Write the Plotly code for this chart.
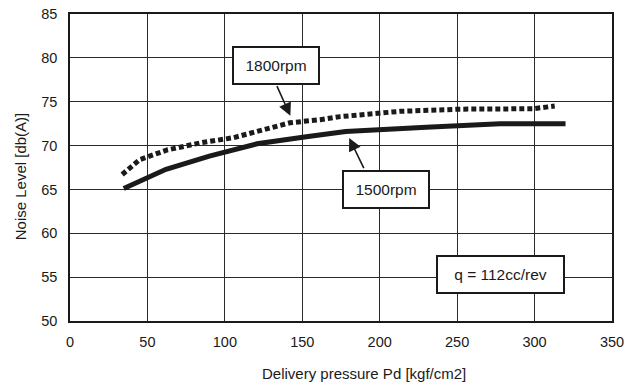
import plotly.graph_objects as go

# Data
p_1500 = [34.7, 62, 90, 120.8, 152.6, 178, 230, 277.7, 320]
n_1500 = [65.1, 67.3, 68.8, 70.2, 71.0, 71.6, 72.1, 72.5, 72.5]

p_1800 = [33.7, 45, 62.7, 84, 105.5, 142, 161.6, 174.5, 213, 251.9, 299, 313]
n_1800 = [66.7, 68.4, 69.5, 70.3, 70.9, 72.6, 72.95, 73.3, 73.9, 74.15, 74.2, 74.5]

x_ticks = [0, 50, 100, 150, 200, 250, 300, 350]
y_ticks = [50, 55, 60, 65, 70, 75, 80, 85]

FONT = "Liberation Sans, Arial, sans-serif"
INK = "#1a1a1a"

W, H = 625, 387
L, T, R, B = 69.5, 14, 625 - 612.5, 387 - 321
PW, PH = W - L - R, H - T - B

fig = go.Figure()
fig.add_trace(go.Scatter(x=p_1500, y=n_1500, mode="lines",
                         line=dict(color=INK, width=5), name="1500rpm"))
fig.add_trace(go.Scatter(x=p_1800, y=n_1800, mode="lines",
                         line=dict(color=INK, width=5, dash="5px,3px"), name="1800rpm"))

box = dict(font=dict(family=FONT, size=15.5, color=INK), bgcolor="white",
           bordercolor=INK, borderwidth=2, borderpad=0, showarrow=False,
           xref="x", yref="y", height=35, align="center", valign="middle")

fig.add_annotation(text="1800rpm", x=132.9, y=79.16, width=84, **box)
fig.add_annotation(text="1500rpm", x=203.9, y=64.97, width=84, **box)
fig.add_annotation(text="q = 112cc/rev", x=277.7, y=55.33, width=125, **box)

arrow = dict(text="", showarrow=True, arrowhead=2, arrowsize=1.6, arrowwidth=1.6,
             arrowcolor=INK, xref="x", yref="y", axref="x", ayref="y")
fig.add_annotation(x=142.3, y=73.4, ax=133.2, ay=76.94, **arrow)
fig.add_annotation(x=180.3, y=70.86, ax=190.2, ay=67.25, **arrow)

# axis titles (page-pixel positions from the reference)
fig.add_annotation(text="Delivery pressure Pd [kgf/cm2]", xref="paper", yref="paper",
                   x=(364 - 69.5) / PW, y=-(373 - 321) / PH, showarrow=False,
                   xanchor="center", yanchor="middle",
                   font=dict(family=FONT, size=15, color=INK))
fig.add_annotation(text="Noise Level [db(A)]", xref="paper", yref="paper",
                   x=-(69.5 - 20) / PW, y=(321 - 176.7) / PH, showarrow=False,
                   textangle=-90, xanchor="center", yanchor="middle",
                   font=dict(family=FONT, size=15, color=INK))

axis_common = dict(showgrid=True, gridcolor="#2a2a2a", gridwidth=1,
                   showline=True, linecolor=INK, linewidth=1.5, mirror=True,
                   zeroline=False, ticks="", automargin=False,
                   ticklabeloverflow="allow",
                   tickfont=dict(family=FONT, size=14.5, color=INK))

fig.update_xaxes(range=[0, 350], tickvals=x_ticks, ticktext=[str(v) for v in x_ticks],
                 ticklabelstandoff=7, **axis_common)
fig.update_yaxes(range=[50, 85], tickvals=y_ticks, ticktext=[str(v) for v in y_ticks],
                 ticklabelstandoff=8, **axis_common)

fig.update_layout(width=W, height=H, showlegend=False,
                  margin=dict(l=L, r=R, t=T, b=B, autoexpand=False),
                  paper_bgcolor="white", plot_bgcolor="white",
                  font=dict(family=FONT, color=INK))

fig.write_html("out.html", config={"displayModeBar": False},
               post_script="document.body.style.margin='0';document.body.style.overflow='hidden';")
